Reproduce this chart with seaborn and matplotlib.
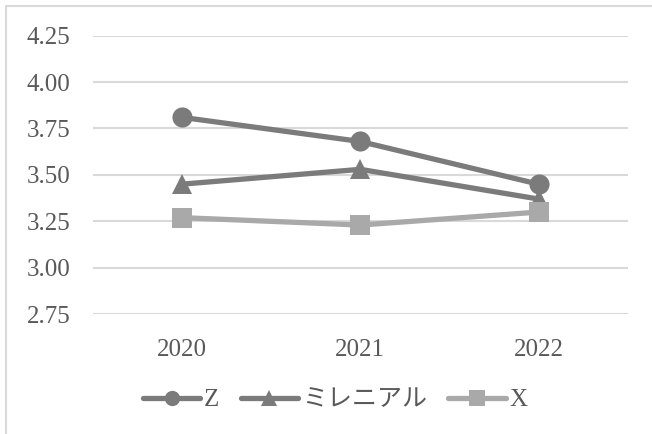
import matplotlib
matplotlib.use("Agg")
import matplotlib.pyplot as plt
from matplotlib.lines import Line2D
import seaborn as sns
import pandas as pd

# Survey scores by generation
years = ["2020", "2021", "2022"]
series_names = ["Z", "ミレニアル", "X"]
z_values = [3.81, 3.68, 3.45]
millennial_values = [3.45, 3.53, 3.37]
x_values = [3.27, 3.23, 3.30]

colors = {"Z": "#7b7b7b", "ミレニアル": "#7b7b7b", "X": "#a9a9a9"}
markers = {"Z": "o", "ミレニアル": "^", "X": "s"}
marker_sizes = {"Z": 14.5, "ミレニアル": 15, "X": 14}

df = pd.DataFrame({
    "year": years * 3,
    "series": [s for s in series_names for _ in years],
    "value": z_values + millennial_values + x_values,
})

sns.set_theme(style="white")
plt.rcParams["font.family"] = ["Liberation Serif", "Noto Sans CJK JP"]
text_color = "#595959"

fig = plt.figure(figsize=(6.52, 4.34), dpi=100)
ax = fig.add_axes([0.142, 0.276, 0.821, 0.642])

for name in series_names:
    sub = df[df["series"] == name]
    sns.lineplot(data=sub, x="year", y="value", ax=ax, color=colors[name],
                 marker=markers[name], markersize=marker_sizes[name], linewidth=3.8,
                 markeredgewidth=0, label=name, sort=False, legend=False)

ax.set_xlim(-0.5, 2.5)
ax.set_ylim(2.75, 4.25)
ax.set_yticks([2.75, 3.00, 3.25, 3.50, 3.75, 4.00, 4.25])
ax.set_yticklabels([f"{v:.2f}" for v in ax.get_yticks()])
ax.yaxis.grid(True, color="#d9d9d9", linewidth=1.5)
ax.xaxis.grid(False)
ax.set_axisbelow(True)
for sp in ax.spines.values():
    sp.set_visible(False)
ax.set_xlabel("")
ax.set_ylabel("")
ax.tick_params(axis="y", length=0, pad=16, labelsize=18, labelcolor=text_color)
ax.tick_params(axis="x", length=0, pad=18, labelsize=18, labelcolor=text_color)

handles = [Line2D([0], [0], color=colors[n], marker=markers[n], markersize=11,
                  linewidth=3.8, markeredgewidth=0, solid_capstyle="round")
           for n in series_names]
leg = fig.legend(handles, series_names, loc="center", bbox_to_anchor=(0.514, 0.078),
                 ncol=3, frameon=False, fontsize=18, handlelength=2.3,
                 handletextpad=0.15, columnspacing=0.85)
for t in leg.get_texts():
    t.set_color(text_color)

# Chart frame edges
fig.add_artist(Line2D([6 / 652, 1.0], [1 - 6 / 434, 1 - 6 / 434],
                      transform=fig.transFigure, color="#d9d9d9", linewidth=1.5))
fig.add_artist(Line2D([6 / 652, 6 / 652], [0.0, 1 - 6 / 434],
                      transform=fig.transFigure, color="#d9d9d9", linewidth=1.5))

fig.savefig("out.png", dpi=100, facecolor="white")
